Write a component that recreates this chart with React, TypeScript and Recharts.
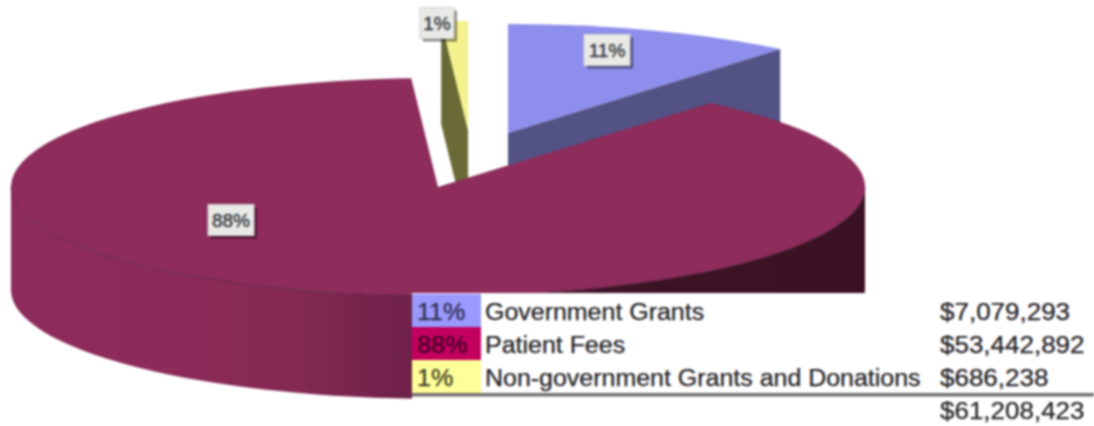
import React from 'react'
import { PieChart, Pie, Legend } from 'recharts'

const categories = ['Government Grants', 'Patient Fees', 'Non-government Grants and Donations']
const shares = [11, 88, 1]
const shareLabels = ['11%', '88%', '1%']
const amounts = ['$7,079,293', '$53,442,892', '$686,238']
const total = '$61,208,423'

// drawing order = counter clockwise from the blue slice, so pink ends up on top
const pieOrder = [0, 2, 1]
const pieData = pieOrder.map((i) => ({ name: categories[i], value: shares[i], slice: i }))

const topColors = ['#8e8eec', '#8e2c5b', '#f4f28c']
const wallColors = ['#525285', 'url(#rimShade)', '#6a6a36']
const swatchColors = ['#9999ff', '#c4005f', '#ffff99']
const shareTextColors = ['#2c2c48', '#3e0026', '#3a3a20']

// exploded slices are moved by hand, the way the original has them
const sliceOffsets = [
  { x: 70, y: -54 },
  { x: 0, y: 0 },
  { x: 30, y: -57 },
]
const labelCenters = [
  { x: 607, y: 50 },
  { x: 231, y: 220 },
  { x: 437, y: 23 },
]

const SQUASH = 0.255
const DEPTH = 103
const RAD = Math.PI / 180

const Slice3D = (props: any) => {
  const { cx, cy, outerRadius: r, startAngle, endAngle } = props
  const slice = props.slice ?? props.payload?.slice
  const off = sliceOffsets[slice]
  const ax = cx + off.x
  const ay = cy + off.y
  const ry = r * SQUASH
  const lo = Math.min(startAngle, endAngle)
  const hi = Math.max(startAngle, endAngle)
  const px = (a: number) => ax + r * Math.cos(a * RAD)
  const py = (a: number) => ay - ry * Math.sin(a * RAD)

  const walls: React.ReactNode[] = []
  const face = (a: number, key: string) => (
    <path
      key={key}
      d={`M${ax},${ay} L${px(a)},${py(a)} L${px(a)},${py(a) + DEPTH} L${ax},${ay + DEPTH} Z`}
      fill={wallColors[slice]}
    />
  )
  if (Math.cos(lo * RAD) > 0.001) walls.push(face(lo, 'lo'))
  if (Math.cos(hi * RAD) < -0.001) walls.push(face(hi, 'hi'))

  const a0 = Math.max(lo, 180)
  const a1 = Math.min(hi, 360)
  if (a1 > a0) {
    walls.push(
      <path
        key="rim"
        d={`M${px(a0)},${py(a0)} A${r},${ry} 0 0 0 ${px(a1)},${py(a1)} L${px(a1)},${py(a1) + DEPTH} A${r},${ry} 0 0 1 ${px(a0)},${py(a0) + DEPTH} Z`}
        fill={wallColors[slice]}
      />,
    )
  }
  const large = hi - lo > 180 ? 1 : 0
  return (
    <g>
      {walls}
      <path
        d={`M${ax},${ay} L${px(lo)},${py(lo)} A${r},${ry} 0 ${large} 0 ${px(hi)},${py(hi)} Z`}
        fill={topColors[slice]}
      />
      {a1 > a0 && (
        <path
          d={`M${px(a0)},${py(a0)} A${r},${ry} 0 0 0 ${px(a1)},${py(a1)}`}
          fill="none"
          stroke="#4f1a36"
          strokeOpacity={0.7}
        />
      )}
    </g>
  )
}

const SliceLabel = (props: any) => {
  const slice = props.slice ?? props.payload?.slice
  const { x, y } = labelCenters[slice]
  const w = slice === 2 ? 34 : 46
  const h = 31
  return (
    <g>
      <rect x={x - w / 2 + 3} y={y - h / 2 + 3} width={w} height={h} fill="#000" opacity={0.45} />
      <rect x={x - w / 2} y={y - h / 2} width={w} height={h} fill="#e9e9e6" stroke="#d2d2d2" />
      <text
        x={x}
        y={y + 7}
        textAnchor="middle"
        fontFamily="Liberation Sans, Arial, sans-serif"
        fontSize={19}
        fill="#33383e"
        stroke="#33383e"
        strokeWidth={0.4}
      >
        {shareLabels[slice]}
      </text>
    </g>
  )
}

const rowStyle = (top: number, stretch: number): React.CSSProperties => ({
  position: 'absolute',
  top,
  whiteSpace: 'nowrap',
  transformOrigin: 'left center',
  transform: `scaleX(${stretch})`,
  lineHeight: '32px',
  WebkitTextStroke: '0.25px currentColor',
})

const LegendTable = () => (
  <div
    style={{
      position: 'relative',
      width: 682,
      height: 132,
      background: '#fff',
      fontFamily: 'Liberation Sans, Arial, sans-serif',
      fontSize: 23,
      color: '#1f2124',
    }}
  >
    {categories.map((name, i) => (
      <React.Fragment key={name}>
        <div
          style={{
            position: 'absolute',
            left: 0,
            top: 1 + i * 33,
            width: 69,
            height: 33,
            background: swatchColors[i],
          }}
        />
        <div style={{ ...rowStyle(3 + i * 33, 1.09), left: 5, color: shareTextColors[i] }}>{shareLabels[i]}</div>
        <div style={{ ...rowStyle(3 + i * 33, 1.085), left: 73 }}>{name}</div>
        <div style={{ ...rowStyle(3 + i * 33, 1.13), left: 528 }}>{amounts[i]}</div>
      </React.Fragment>
    ))}
    <div
      style={{
        position: 'absolute',
        left: 0,
        top: 100,
        width: 682,
        height: 3,
        background: '#6f6f6f',
        borderBottom: '1px solid #bbb',
      }}
    />
    <div style={{ ...rowStyle(102, 1.13), left: 528 }}>{total}</div>
  </div>
)

export default function App() {
  return (
    <div
      style={{
        position: 'absolute',
        left: 0,
        top: 0,
        width: 1094,
        height: 426,
        background: '#fff',
        filter: 'blur(0.8px)',
      }}
    >
      <PieChart width={1094} height={426} margin={{ top: 0, right: 0, bottom: 0, left: 0 }}>
        <defs>
          <linearGradient id="rimShade" gradientUnits="userSpaceOnUse" x1={12} y1={0} x2={865} y2={0}>
            <stop offset="0" stopColor="#8e2c5b" />
            <stop offset="0.2" stopColor="#8c2b59" />
            <stop offset="0.33" stopColor="#842953" />
            <stop offset="0.47" stopColor="#6e2149" />
            <stop offset="0.58" stopColor="#5a1b3b" />
            <stop offset="0.72" stopColor="#3c1426" />
            <stop offset="1" stopColor="#3a1224" />
          </linearGradient>
        </defs>
        <Pie
          data={pieData}
          dataKey="value"
          nameKey="name"
          cx={438}
          cy={187}
          outerRadius={427}
          startAngle={50.4}
          endAngle={410.4}
          stroke="none"
          isAnimationActive={false}
          shape={Slice3D}
          label={SliceLabel}
          labelLine={false}
        />
        <Legend
          content={LegendTable}
          wrapperStyle={{ position: 'absolute', left: 412, top: 293, width: 682, height: 132 }}
        />
      </PieChart>
    </div>
  )
}
